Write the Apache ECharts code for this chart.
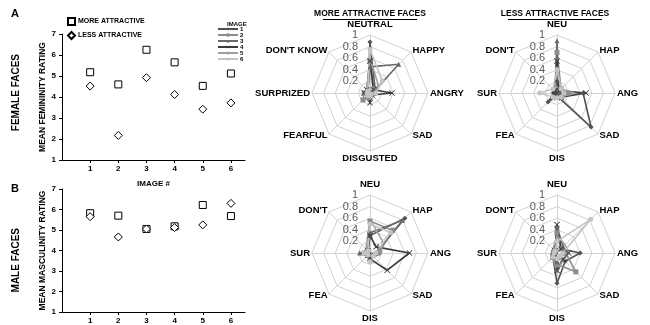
<!DOCTYPE html>
<html><head><meta charset="utf-8">
<script src="https://cdn.jsdelivr.net/npm/echarts@6/dist/echarts.min.js"></script>
<style>html,body{margin:0;padding:0;background:#fff}#c{width:650px;height:325px}</style>
</head><body><div id="c"></div>
<script>
// ---- data ----
const imageNums = [1, 2, 3, 4, 5, 6];
const xTickLabels = [1, 2, 3, 4, 5, 6];
const yTicks = [1, 2, 3, 4, 5, 6, 7];
const femMore = [5.18, 4.6, 6.25, 5.65, 4.53, 5.12];
const femLess = [4.52, 2.17, 4.92, 4.12, 3.42, 3.72];
const maleMore = [5.82, 5.7, 5.05, 5.18, 6.22, 5.68];
const maleLess = [5.65, 4.66, 5.05, 5.12, 5.25, 6.3];
const legendNames = ['MORE ATTRACTIVE', 'LESS ATTRACTIVE'];
const imageNames = ['1', '2', '3', '4', '5', '6'];
// emotions in clockwise order starting at top
const emotionsLong = ['NEUTRAL', 'HAPPY', 'ANGRY', 'SAD', 'DISGUSTED', 'FEARFUL', 'SURPRIZED', "DON'T KNOW"];
const emotionsShort = ['NEU', 'HAP', 'ANG', 'SAD', 'DIS', 'FEA', 'SUR', "DON'T"];
const radarTicks = [0.2, 0.4, 0.6, 0.8, 1];
// proportions per image (rows = images 1..6), columns follow emotions order
const femMoreRadar = [
  [0.88, 0.12, 0.05, 0.02, 0.05, 0.03, 0.08, 0.05],
  [0.55, 0.10, 0.05, 0.02, 0.08, 0.17, 0.10, 0.05],
  [0.45, 0.70, 0.05, 0.02, 0.05, 0.03, 0.05, 0.05],
  [0.55, 0.08, 0.38, 0.05, 0.17, 0.05, 0.10, 0.08],
  [0.60, 0.20, 0.08, 0.05, 0.08, 0.05, 0.12, 0.08],
  [0.75, 0.30, 0.10, 0.03, 0.05, 0.05, 0.05, 0.05]
];
const femLessRadar = [
  [0.20, 0.05, 0.45, 0.83, 0.05, 0.22, 0.05, 0.05],
  [0.70, 0.10, 0.20, 0.10, 0.05, 0.05, 0.05, 0.05],
  [0.90, 0.05, 0.05, 0.05, 0.05, 0.03, 0.05, 0.05],
  [0.55, 0.05, 0.50, 0.10, 0.08, 0.05, 0.05, 0.05],
  [0.45, 0.10, 0.30, 0.10, 0.10, 0.05, 0.10, 0.05],
  [0.40, 0.10, 0.12, 0.10, 0.08, 0.10, 0.30, 0.10]
];
const maleMoreRadar = [
  [0.30, 0.85, 0.10, 0.05, 0.05, 0.05, 0.05, 0.05],
  [0.55, 0.55, 0.15, 0.05, 0.10, 0.05, 0.10, 0.05],
  [0.35, 0.80, 0.10, 0.05, 0.05, 0.05, 0.18, 0.05],
  [0.30, 0.15, 0.68, 0.42, 0.10, 0.05, 0.05, 0.05],
  [0.58, 0.30, 0.20, 0.10, 0.10, 0.05, 0.10, 0.10],
  [0.50, 0.50, 0.10, 0.08, 0.15, 0.05, 0.10, 0.05]
];
const maleLessRadar = [
  [0.43, 0.10, 0.40, 0.20, 0.52, 0.10, 0.05, 0.05],
  [0.35, 0.10, 0.15, 0.46, 0.20, 0.10, 0.05, 0.05],
  [0.45, 0.15, 0.10, 0.10, 0.15, 0.10, 0.08, 0.05],
  [0.49, 0.10, 0.20, 0.15, 0.30, 0.05, 0.05, 0.05],
  [0.30, 0.20, 0.20, 0.15, 0.35, 0.10, 0.10, 0.10],
  [0.20, 0.82, 0.10, 0.08, 0.10, 0.10, 0.05, 0.05]
];

// ---- styles ----
const FONT = 'Liberation Sans, Arial, sans-serif';
const imgColors = ['#505050', '#8c8c8c', '#6a6a6a', '#3a3a3a', '#a0a0a0', '#c4c4c4'];
const X_PATH = 'path://M0,1L1,0L5,4L9,0L10,1L6,5L10,9L9,10L5,6L1,10L0,9L4,5Z';
const imgSymbols = ['diamond', 'rect', 'triangle', X_PATH, 'none', 'circle'];
// reorder clockwise data to ECharts' counter-clockwise indicator order
const ccwOrder = [0, 7, 6, 5, 4, 3, 2, 1];
const reorder = arr => ccwOrder.map(i => arr[i]);

function radarCfg(center, names) {
  return {
    center: center, radius: 58, startAngle: 90, shape: 'polygon', splitNumber: 5,
    nameGap: 2,
    axisName: { color: '#000', fontWeight: 'bold', fontSize: 9.5, fontFamily: FONT },
    splitLine: { lineStyle: { color: '#d2d2d2', width: 1 } },
    splitArea: { show: false },
    axisLine: { lineStyle: { color: '#d2d2d2', width: 1 } },
    axisTick: { show: false },
    axisLabel: { show: false },
    indicator: reorder(names).map((n, i) => {
      const ind = { name: n, min: 0, max: 1 };
      if (i === 0) {
        ind.axisLabel = {
          show: true, fontSize: 11, color: '#5a5a5a', fontFamily: FONT, margin: 12,
          showMaxLabel: true,
          formatter: v => (radarTicks.indexOf(+v.toFixed(1)) >= 0 ? String(+v.toFixed(1)) : '')
        };
      }
      return ind;
    })
  };
}

function radarSeries(idx, rows) {
  return {
    type: 'radar', radarIndex: idx, silent: true,
    data: rows.map((r, k) => ({
      name: imageNames[k], value: reorder(r),
      symbol: imgSymbols[k], symbolSize: k === 3 ? 6 : 5,
      lineStyle: { color: imgColors[k], width: 1.6 },
      itemStyle: { color: imgColors[k] }
    }))
  };
}

const axisLabelStyle = { color: '#000', fontWeight: 'bold', fontSize: 8, fontFamily: FONT };
function xAxisCfg(grid, name) {
  return {
    type: 'value', gridIndex: grid, min: 0, max: 6.5, interval: 1,
    name: name, nameLocation: 'middle', nameGap: 20,
    nameTextStyle: { color: '#000', fontWeight: 'bold', fontSize: 8, fontFamily: FONT },
    axisLine: { lineStyle: { color: '#000', width: 1 } },
    axisTick: { show: true, length: 3, customValues: xTickLabels, lineStyle: { color: '#000' } },
    axisLabel: Object.assign({ customValues: xTickLabels, margin: 5 }, axisLabelStyle),
    splitLine: { show: false }
  };
}
function yAxisCfg(grid, name) {
  return {
    type: 'value', gridIndex: grid, min: yTicks[0], max: yTicks[yTicks.length - 1], interval: 1,
    name: name, nameLocation: 'middle', nameGap: 15,
    nameTextStyle: { color: '#000', fontWeight: 'bold', fontSize: 8.5, fontFamily: FONT },
    axisLine: { show: true, lineStyle: { color: '#000', width: 1 } },
    axisTick: { show: true, length: 3, lineStyle: { color: '#000' } },
    axisLabel: Object.assign({ margin: 6 }, axisLabelStyle),
    splitLine: { show: false }
  };
}
const pairs = arr => arr.map((v, i) => [imageNums[i], v]);
function scatter(name, grid, data, sym) {
  return {
    type: 'scatter', name: name, xAxisIndex: grid, yAxisIndex: grid, silent: true,
    symbol: sym, symbolSize: sym === 'rect' ? 7 : 8,
    itemStyle: { color: '#fff', borderColor: '#000', borderWidth: 1, opacity: 1 },
    data: pairs(data)
  };
}

const chart = echarts.init(document.getElementById('c'), null, { renderer: 'canvas' });
const titleStyle = { color: '#000', fontWeight: 'bold', fontSize: 8.5, fontFamily: FONT };
chart.setOption({
  animation: false,
  backgroundColor: '#fff',
  title: [
    { text: 'A', left: 6, top: 3, textStyle: { color: '#000', fontWeight: 'bold', fontSize: 11, fontFamily: FONT } },
    { text: 'B', left: 6, top: 178, textStyle: { color: '#000', fontWeight: 'bold', fontSize: 11, fontFamily: FONT } },
    { text: 'IMAGE', left: 222, top: 16, textStyle: { color: '#000', fontWeight: 'bold', fontSize: 6, fontFamily: FONT } },
    { text: 'MORE ATTRACTIVE FACES', left: 370, top: 9, padding: 0, textAlign: 'center', textStyle: titleStyle },
    { text: 'LESS ATTRACTIVE FACES', left: 555, top: 9, padding: 0, textAlign: 'center', textStyle: titleStyle }
  ],
  graphic: [
    { type: 'text', left: 11, top: 54, rotation: Math.PI / 2,
      style: { text: 'FEMALE FACES', fill: '#000', font: 'bold 10px ' + FONT } },
    { type: 'text', left: 11, top: 228, rotation: Math.PI / 2,
      style: { text: 'MALE FACES', fill: '#000', font: 'bold 10px ' + FONT } },
    { type: 'line', shape: { x1: 323, y1: 19.5, x2: 417, y2: 19.5 }, style: { stroke: '#000', lineWidth: 1 } },
    { type: 'line', shape: { x1: 508, y1: 19.5, x2: 602, y2: 19.5 }, style: { stroke: '#000', lineWidth: 1 } }
  ],
  legend: [
    { data: legendNames, left: 67, top: 17, orient: 'vertical', itemGap: 5, itemWidth: 7, itemHeight: 7,
      selectedMode: false, padding: 0,
      textStyle: { color: '#000', fontWeight: 'bold', fontSize: 7, fontFamily: FONT, padding: [0, 0, 0, -2] } },
    { data: imageNames, left: 217, top: 26, orient: 'vertical', itemGap: 0, itemWidth: 20, itemHeight: 4,
      selectedMode: false, padding: 0,
      textStyle: { color: '#000', fontWeight: 'bold', fontSize: 6, lineHeight: 5, fontFamily: FONT, padding: [0, 0, 0, -3] } }
  ],
  grid: [
    { left: 62, top: 34, width: 183, height: 126 },
    { left: 62, top: 189, width: 183, height: 123 }
  ],
  xAxis: [xAxisCfg(0, 'IMAGE #'), xAxisCfg(1, '')],
  yAxis: [yAxisCfg(0, 'MEAN FEMININITY RATING'), yAxisCfg(1, 'MEAN MASCULINITY RATING')],
  radar: [
    radarCfg([370, 93], emotionsLong),
    radarCfg([557, 93], emotionsShort),
    radarCfg([370, 253], emotionsShort),
    radarCfg([557, 253], emotionsShort)
  ],
  series: [
    scatter(legendNames[0], 0, femMore, 'rect'),
    scatter(legendNames[1], 0, femLess, 'diamond'),
    scatter(legendNames[0], 1, maleMore, 'rect'),
    scatter(legendNames[1], 1, maleLess, 'diamond'),
    radarSeries(0, femMoreRadar),
    radarSeries(1, femLessRadar),
    radarSeries(2, maleMoreRadar),
    radarSeries(3, maleLessRadar)
  ].concat(imageNames.map((n, k) => ({
    type: 'line', name: n, xAxisIndex: 0, yAxisIndex: 0, data: [],
    symbol: imgSymbols[k], symbolSize: 4,
    lineStyle: { color: imgColors[k], width: 1.6 }, itemStyle: { color: imgColors[k] }
  })))
});
</script></body></html>
